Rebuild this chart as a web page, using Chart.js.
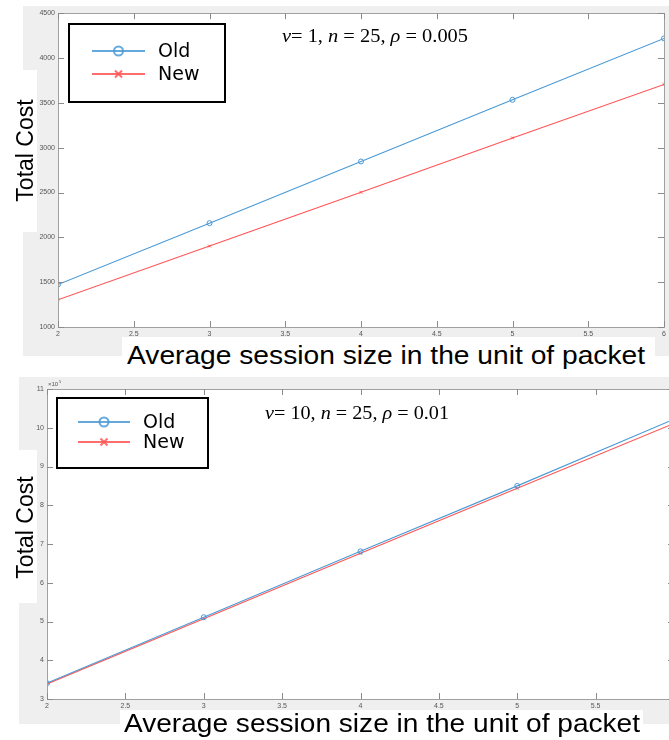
<!DOCTYPE html>
<html>
<head>
<meta charset="utf-8">
<script src="https://cdn.jsdelivr.net/npm/chart.js@4"></script>
<style>
html,body{margin:0;padding:0;width:669px;height:740px;overflow:hidden;background:#fff;}
.panel{position:absolute;background:#efefef;}
.patch{position:absolute;background:#fff;}
.wrap{position:absolute;}
.xlab{position:absolute;font-family:"Liberation Sans",Arial,sans-serif;font-size:26px;line-height:26px;color:#000;white-space:nowrap;transform-origin:0 0;}
.ylab{position:absolute;font-family:"Liberation Sans",Arial,sans-serif;font-size:23px;line-height:23px;color:#000;white-space:nowrap;width:160px;height:23px;text-align:center;transform:rotate(-90deg);}
</style>
</head>
<body>
<!-- top panel -->
<div class="panel" style="left:23px;top:6px;width:646px;height:350px;"></div>
<div class="wrap" style="left:23px;top:6px;width:646px;height:350px;"><canvas id="c1"></canvas></div>
<div class="patch" style="left:0;top:70px;width:37px;height:162px;"></div>
<div class="patch" style="left:122px;top:337px;width:533px;height:40px;"></div>
<div class="ylab" style="left:-55px;top:138.5px;">Total Cost</div>
<div class="xlab" id="xl1" style="left:127px;top:342px;">Average session size in the unit of packet</div>

<!-- bottom panel -->
<div class="panel" style="left:19px;top:377px;width:650px;height:347px;"></div>
<div class="wrap" style="left:19px;top:377px;width:662px;height:347px;"><canvas id="c2"></canvas></div>
<div class="patch" style="left:0;top:450px;width:37px;height:153px;"></div>
<div class="patch" style="left:120px;top:710px;width:523px;height:30px;"></div>
<div class="ylab" style="left:-55px;top:515.5px;">Total Cost</div>
<div class="xlab" id="xl2" style="left:124px;top:710px;">Average session size in the unit of packet</div>

<script>
// ---- data ----
const sessionSizes = [2, 3, 4, 5, 6];
const seriesNames = ['Old', 'New'];
// chart 1: v=1, n=25, rho=0.005
const oldCost1 = [1474, 2158, 2846, 3534, 4219];
const newCost1 = [1304, 1903, 2502, 3109, 3705];
// chart 2: v=10, n=25, rho=0.01
const oldCost2 = [341000, 511000, 681000, 850000, 1022000];
const newCost2 = [339000, 507000, 676000, 844000, 1011000];
const xTicks = [2, 2.5, 3, 3.5, 4, 4.5, 5, 5.5, 6];
const yTicks1 = [1000, 1500, 2000, 2500, 3000, 3500, 4000, 4500];
const yTicks2 = [3, 4, 5, 6, 7, 8, 9, 10, 11];
const annot1 = [['ν', true], ['= 1, ', false], ['n', true], [' = 25, ', false], ['ρ', true], [' = 0.005', false]];
const annot2 = [['ν', true], ['= 10, ', false], ['n', true], [' = 25, ', false], ['ρ', true], [' = 0.01', false]];

const BLUE = '#4a9ad6';
const RED = '#ff5555';

function pts(ys){ return sessionSizes.map((x,i)=>({x:x, y:ys[i]})); }

// fit x-labels to target width
function fitLabel(id, target){
  const el = document.getElementById(id);
  const w = el.getBoundingClientRect().width;
  el.style.transform = 'scaleX(' + (target / w) + ')';
}
fitLabel('xl1', 518);
fitLabel('xl2', 516);

function makePlugin(cfg){
  return {
    id: 'deco',
    beforeDraw(chart){
      const a = chart.chartArea, ctx = chart.ctx;
      ctx.save();
      ctx.fillStyle = '#fff';
      ctx.fillRect(a.left, a.top, a.right - a.left, a.bottom - a.top);
      ctx.restore();
    },
    afterDraw(chart){
      const a = chart.chartArea, ctx = chart.ctx;
      const xs = chart.scales.x, ys = chart.scales.y;
      ctx.save();
      // box
      ctx.strokeStyle = '#a0a0a0';
      ctx.lineWidth = 1;
      ctx.strokeRect(Math.round(a.left)+0.5, Math.round(a.top)+0.5, Math.round(a.right - a.left), Math.round(a.bottom - a.top));
      // inner ticks
      ctx.strokeStyle = '#8a8a8a';
      ctx.beginPath();
      xs.ticks.forEach(t=>{
        const px = Math.round(xs.getPixelForValue(t.value)) + 0.5;
        ctx.moveTo(px, a.bottom); ctx.lineTo(px, a.bottom - 6);
        ctx.moveTo(px, a.top); ctx.lineTo(px, a.top + 6);
      });
      ys.ticks.forEach(t=>{
        const py = Math.round(ys.getPixelForValue(t.value)) + 0.5;
        ctx.moveTo(a.left, py); ctx.lineTo(a.left + 6, py);
        ctx.moveTo(a.right, py); ctx.lineTo(a.right - 6, py);
      });
      ctx.stroke();
      // exponent label
      if (cfg.exponent){
        ctx.fillStyle = '#555';
        ctx.font = '6px "Liberation Sans", Arial, sans-serif';
        ctx.textBaseline = 'alphabetic';
        ctx.fillText('×10', a.left + 1, a.top - 3);
        ctx.font = '4px "Liberation Sans", Arial, sans-serif';
        ctx.fillText('5', a.left + 12, a.top - 6);
      }
      // legend
      const L = cfg.legend;
      ctx.fillStyle = '#fff';
      ctx.fillRect(L.x0, L.y0, L.x1 - L.x0, L.y1 - L.y0);
      ctx.strokeStyle = '#000';
      ctx.lineWidth = 2;
      ctx.strokeRect(L.x0, L.y0, L.x1 - L.x0, L.y1 - L.y0);
      const rows = [[L.yOld, BLUE, 'circle'], [L.yNew, RED, 'cross']];
      rows.forEach((r, i)=>{
        ctx.strokeStyle = r[1];
        ctx.globalAlpha = 0.85;
        ctx.lineWidth = 2;
        ctx.beginPath(); ctx.moveTo(L.lx0, r[0]); ctx.lineTo(L.lx1, r[0]); ctx.stroke();
        const mx = (L.lx0 + L.lx1) / 2;
        ctx.beginPath();
        if (r[2] === 'circle'){ ctx.arc(mx, r[0], 4.5, 0, Math.PI*2); }
        else { ctx.moveTo(mx-3.5, r[0]-3.5); ctx.lineTo(mx+3.5, r[0]+3.5); ctx.moveTo(mx+3.5, r[0]-3.5); ctx.lineTo(mx-3.5, r[0]+3.5); }
        ctx.stroke();
        ctx.globalAlpha = 1;
        ctx.fillStyle = '#000';
        ctx.font = '19px "DejaVu Sans", sans-serif';
        ctx.textBaseline = 'middle';
        ctx.fillText(seriesNames[i], L.tx, r[0] + 1);
      });
      // annotation
      const A = cfg.annot;
      ctx.textBaseline = 'alphabetic';
      ctx.fillStyle = '#000';
      let total = 0;
      A.parts.forEach(p=>{ ctx.font = (p[1] ? 'italic ' : '') + '18px "Liberation Serif", "Times New Roman", serif'; total += ctx.measureText(p[0]).width; });
      const sc = A.width / total;
      ctx.translate(A.x, A.y);
      ctx.scale(sc, 1);
      let cx = 0;
      A.parts.forEach(p=>{ ctx.font = (p[1] ? 'italic ' : '') + '18px "Liberation Serif", "Times New Roman", serif'; ctx.fillText(p[0], cx, 0); cx += ctx.measureText(p[0]).width; });
      ctx.restore();
    }
  };
}

function makeChart(id, opt){
  const canvas = document.getElementById(id);
  return new Chart(canvas, {
    type: 'line',
    data: {
      datasets: [
        { label: seriesNames[0], data: pts(opt.oldData), borderColor: BLUE, backgroundColor: 'rgba(0,0,0,0)', borderWidth: 1.1, pointStyle: 'circle', pointRadius: 2.5, pointBorderWidth: 1, pointBorderColor: BLUE, pointBackgroundColor: 'rgba(0,0,0,0)', tension: 0 },
        { label: seriesNames[1], data: pts(opt.newData), borderColor: RED, backgroundColor: 'rgba(0,0,0,0)', borderWidth: 1.1, pointStyle: 'crossRot', pointRadius: 2, pointBorderWidth: 1, pointBorderColor: RED, tension: 0 }
      ]
    },
    options: {
      responsive: true,
      maintainAspectRatio: false,
      animation: false,
      events: [],
      layout: { padding: opt.padding },
      plugins: { legend: { display: false }, tooltip: { enabled: false }, title: { display: false } },
      scales: {
        x: {
          type: 'linear', min: 2, max: 6,
          afterBuildTicks(s){ s.ticks = xTicks.map(v=>({value: v})); },
          afterFit(s){ s.height = 12; },
          grid: { display: false, drawTicks: false },
          border: { display: false },
          ticks: { padding: 3, color: '#555', font: { size: 7, family: '"Liberation Sans", Arial, sans-serif' }, maxRotation: 0, autoSkip: false,
                   callback: v => String(Math.round(v * 10) / 10) }
        },
        y: {
          type: 'linear', min: opt.ymin, max: opt.ymax,
          afterBuildTicks(s){ s.ticks = opt.yTicks.map(v=>({value: v * opt.yScale})); },
          afterFit(s){ s.width = opt.yWidth; },
          grid: { display: false, drawTicks: false },
          border: { display: false },
          ticks: { padding: 3, color: '#555', font: { size: 7, family: '"Liberation Sans", Arial, sans-serif' }, autoSkip: false,
                   callback: v => String(Math.round(v / opt.yScale * 10) / 10) }
        }
      }
    },
    plugins: [makePlugin(opt.deco)]
  });
}

makeChart('c1', {
  oldData: oldCost1, newData: newCost1, ymin: 1000, ymax: 4500, yTicks: yTicks1, yScale: 1, yWidth: 35,
  padding: { top: 6.5, right: 5, left: 0, bottom: 17 },
  deco: {
    exponent: false,
    legend: { x0: 46, y0: 18, x1: 202, y1: 96, yOld: 45, yNew: 68, lx0: 69, lx1: 122, tx: 135 },
    annot: { parts: annot1, x: 259, y: 35.5, width: 186 }
  }
});

makeChart('c2', {
  oldData: oldCost2, newData: newCost2, ymin: 300000, ymax: 1100000, yTicks: yTicks2, yScale: 100000, yWidth: 28,
  padding: { top: 12, right: 7, left: 0, bottom: 13 },
  deco: {
    exponent: true,
    legend: { x0: 38, y0: 21, x1: 189, y1: 91, yOld: 45, yNew: 65, lx0: 59, lx1: 111, tx: 124 },
    annot: { parts: annot2, x: 246, y: 41.5, width: 184 }
  }
});
</script>
</body>
</html>
